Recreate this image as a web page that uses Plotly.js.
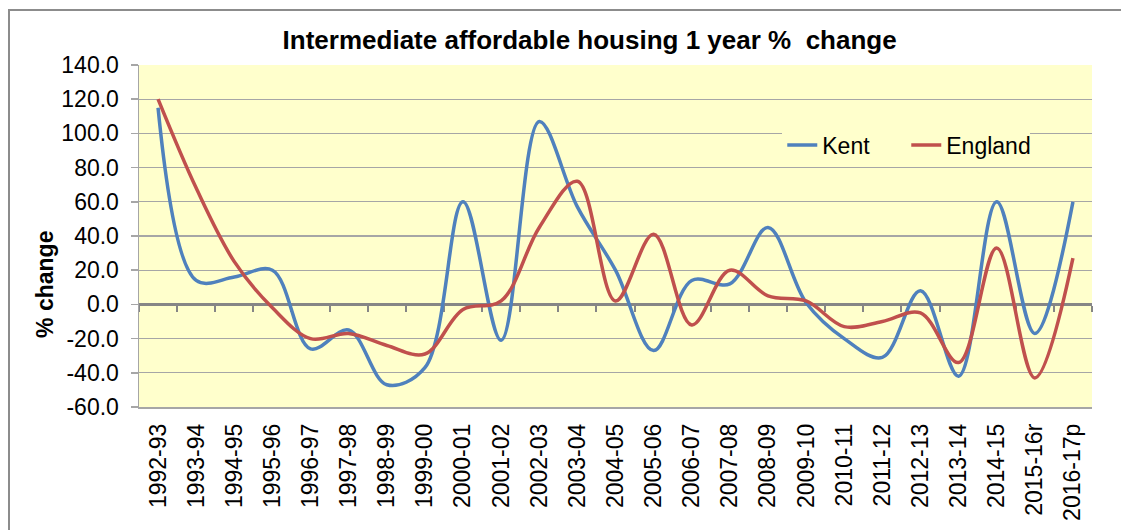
<!DOCTYPE html>
<html>
<head>
<meta charset="utf-8">
<script src="https://cdn.plot.ly/plotly-3.0.1.min.js"></script>
<style>
  html, body { margin: 0; padding: 0; background: #ffffff; overflow: hidden; }
  #frame { position: absolute; left: 8px; top: 9px; width: 1200px; height: 600px;
           border: 2px solid #8c8c8c; }
  #chart { position: absolute; left: 0; top: 0; width: 1121px; height: 530px; }
</style>
</head>
<body>
<div id="frame"></div>
<div id="chart"></div>
<script>
const years = ["1992-93", "1993-94", "1994-95", "1995-96", "1996-97", "1997-98", "1998-99",
               "1999-00", "2000-01", "2001-02", "2002-03", "2003-04", "2004-05", "2005-06",
               "2006-07", "2007-08", "2008-09", "2009-10", "2010-11", "2011-12", "2012-13",
               "2013-14", "2014-15", "2015-16r", "2016-17p"];
const kent = [115, 14, 16, 20, -26, -15, -47, -37, 60, -21, 107, 57, 20, -27,
              14, 12, 45, 1, -20, -31, 8, -42, 60, -17, 60];
const england = [120, 68, 25, -2, -20, -17, -24, -29, -3, 2, 45, 72, 2, 41,
                 -12, 20, 5, 2, -13, -10, -5, -34, 33, -43, 27];
const yTicks = [-60, -40, -20, 0, 20, 40, 60, 80, 100, 120, 140];

const textFont = {family: "Liberation Sans, Arial, sans-serif", size: 23, color: "#000000"};

// category boundaries for the tick marks on the zero line
const boundaries = years.map((y, i) => i - 0.5).concat([years.length - 0.5]);

const traceKent = {
    x: years,
    y: kent,
    type: 'scatter',
    mode: 'lines',
    name: 'Kent',
    line: {color: '#4F81BD', width: 3.5, shape: 'spline', smoothing: 1}
};
const traceEngland = {
    x: years,
    y: england,
    type: 'scatter',
    mode: 'lines',
    name: 'England',
    line: {color: '#C0504D', width: 3.5, shape: 'spline', smoothing: 1}
};
// empty trace so the zero-line axis gets drawn
const traceAxis = {
    x: [], y: [],
    xaxis: 'x2', yaxis: 'y',
    type: 'scatter', mode: 'lines',
    showlegend: false, hoverinfo: 'skip'
};

const layout = {
    width: 1121,
    height: 530,
    margin: {l: 139, r: 29, t: 65, b: 123},
    paper_bgcolor: 'rgba(0,0,0,0)',
    plot_bgcolor: '#FFFFCC',
    font: textFont,
    title: {
        text: "Intermediate affordable housing 1 year %  change",
        font: {family: textFont.family, size: 26, color: '#000000', weight: 'bold'},
        x: 0.526, xanchor: 'center',
        y: 0.925, yanchor: 'middle'
    },
    xaxis: {
        type: 'category',
        range: [-0.5, years.length - 0.5],
        tickangle: -90,
        ticks: '',
        showgrid: false,
        showline: true,
        linecolor: '#a6a6a6',
        linewidth: 1.5,
        tickfont: textFont,
        ticklabelstandoff: 6
    },
    //zero line carrying the category tick marks
    xaxis2: {
        overlaying: 'x',
        anchor: 'free',
        position: 0.3,
        range: [-0.5, years.length - 0.5],
        tickmode: 'array',
        tickvals: boundaries,
        showticklabels: false,
        ticks: 'outside',
        ticklen: 6,
        tickwidth: 2,
        tickcolor: '#868686',
        showline: true,
        linecolor: '#868686',
        linewidth: 3,
        showgrid: false,
        zeroline: false,
        layer: 'below traces'
    },
    yaxis: {
        range: [-60, 140],
        tickmode: 'array',
        tickvals: yTicks,
        ticktext: yTicks.map(v => v.toFixed(1)),
        ticks: 'outside',
        ticklen: 7,
        tickcolor: '#a6a6a6',
        tickwidth: 1.5,
        showline: true,
        linecolor: '#a6a6a6',
        linewidth: 1.5,
        gridcolor: '#a6a6a6',
        gridwidth: 1.3,
        zeroline: false,
        tickfont: textFont,
        ticklabelstandoff: 7
    },
    annotations: [{
        text: '% change',
        textangle: -90,
        font: {family: textFont.family, size: 23, color: '#000000', weight: 'bold'},
        showarrow: false,
        xref: 'paper', yref: 'paper',
        x: -0.0986, y: 0.357,
        xanchor: 'center', yanchor: 'middle'
    }],
    showlegend: true,
    legend: {
        orientation: 'h',
        x: 0.675, xanchor: 'left',
        y: 0.766, yanchor: 'middle',
        bgcolor: '#FFFFCC',
        font: textFont,
        entrywidth: 79,
        entrywidthmode: 'pixels'
    }
};

Plotly.newPlot('chart', [traceKent, traceEngland, traceAxis], layout, {displayModeBar: false, staticPlot: true});
</script>
</body>
</html>
